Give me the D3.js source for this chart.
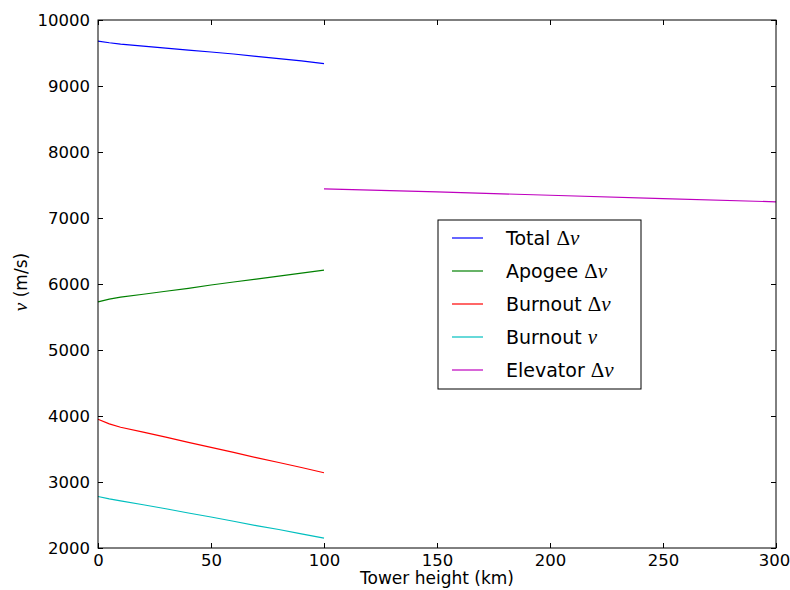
<!DOCTYPE html>
<html>
<head>
<meta charset="utf-8">
<script src="https://cdn.jsdelivr.net/npm/d3@7"></script>
<style>
  body { margin: 0; background: #fff; }
  text { font-family: "DejaVu Sans", sans-serif; }
</style>
</head>
<body>
<script>
// tower heights (km) for the rocket curves and for the elevator curve
var towerKm = [0, 5, 10, 20, 30, 40, 50, 60, 70, 80, 90, 100];
var elevatorKm = [100, 150, 200, 250, 300];

// speeds (m/s)
var totalDv    = [9680, 9655, 9635, 9605, 9575, 9545, 9515, 9485, 9450, 9415, 9380, 9340];
var apogeeDv   = [5730, 5770, 5800, 5845, 5890, 5935, 5985, 6030, 6075, 6120, 6165, 6210];
var burnoutDv  = [3950, 3880, 3830, 3755, 3680, 3600, 3525, 3450, 3370, 3295, 3220, 3140];
var burnoutV   = [2780, 2745, 2715, 2655, 2595, 2530, 2470, 2405, 2340, 2280, 2215, 2150];
var elevatorDv = [7440, 7395, 7345, 7295, 7245];

var xTicks = [0, 50, 100, 150, 200, 250, 300];
var yTicks = [2000, 3000, 4000, 5000, 6000, 7000, 8000, 9000, 10000];

var series = [
  {name: "Total ", sym: "\u0394", it: "v", color: "#0000ff", xs: towerKm, ys: totalDv},
  {name: "Apogee ", sym: "\u0394", it: "v", color: "#008000", xs: towerKm, ys: apogeeDv},
  {name: "Burnout ", sym: "\u0394", it: "v", color: "#ff0000", xs: towerKm, ys: burnoutDv},
  {name: "Burnout ", sym: "", it: "v", color: "#00bfbf", xs: towerKm, ys: burnoutV},
  {name: "Elevator ", sym: "\u0394", it: "v", color: "#bf00bf", xs: elevatorKm, ys: elevatorDv}
];

(function() {
  var w = 790, h = 590;
  var pLeft = 98, pRight = 776, pTop = 20, pBottom = 548;
  var mathFont = "Liberation Serif, DejaVu Serif, serif";

  var svg = d3.select("body").append("svg")
    .attr("width", w)
    .attr("height", h);

  var x = d3.scaleLinear().domain([0, 300]).range([pLeft, pRight]);
  var y = d3.scaleLinear().domain([2000, 10000]).range([pBottom, pTop]);

  // lines
  var line = d3.line()
    .x(function(d) { return x(d[0]); })
    .y(function(d) { return y(d[1]); });

  series.forEach(function(s) {
    svg.append("path")
      .datum(s.xs.map(function(v, i) { return [v, s.ys[i]]; }))
      .attr("d", line)
      .attr("fill", "none")
      .attr("stroke", s.color)
      .attr("stroke-width", 1.2);
  });

  // axes: ticks point inward, on all four sides
  function styleAxis(g) {
    g.select(".domain").remove();
    g.selectAll(".tick line").attr("stroke", "#000");
    g.selectAll(".tick text").attr("font-size", "16.5px").attr("fill", "#000")
      .attr("font-family", "DejaVu Sans, sans-serif");
  }

  var xb = svg.append("g")
    .attr("transform", "translate(0," + pBottom + ")")
    .call(d3.axisBottom(x).tickValues(xTicks).tickSizeInner(-5).tickSizeOuter(0).tickPadding(6).tickFormat(d3.format("d")))
    .call(styleAxis);
  // keep the last label inside the window
  xb.selectAll(".tick text").filter(function(d) { return d === 300; }).attr("dx", "-2");

  svg.append("g")
    .attr("transform", "translate(0," + pTop + ")")
    .call(d3.axisTop(x).tickValues(xTicks).tickSizeInner(-5).tickSizeOuter(0).tickFormat(""))
    .call(styleAxis);

  svg.append("g")
    .attr("transform", "translate(" + pLeft + ",0)")
    .call(d3.axisLeft(y).tickValues(yTicks).tickSizeInner(-5).tickSizeOuter(0).tickPadding(8).tickFormat(d3.format("d")))
    .call(styleAxis);

  svg.append("g")
    .attr("transform", "translate(" + pRight + ",0)")
    .call(d3.axisRight(y).tickValues(yTicks).tickSizeInner(-5).tickSizeOuter(0).tickFormat(""))
    .call(styleAxis);

  // frame
  svg.append("rect")
    .attr("x", pLeft).attr("y", pTop)
    .attr("width", pRight - pLeft).attr("height", pBottom - pTop)
    .attr("fill", "none")
    .attr("stroke", "#000")
    .attr("stroke-width", 1);

  // axis labels
  svg.append("text")
    .attr("x", (pLeft + pRight) / 2)
    .attr("y", 584)
    .attr("text-anchor", "middle")
    .attr("font-size", "17px")
    .text("Tower height (km)");

  var yl = svg.append("text")
    .attr("transform", "translate(27,282) rotate(-90)")
    .attr("text-anchor", "middle")
    .attr("font-size", "17px");
  yl.append("tspan").attr("font-family", mathFont).attr("font-style", "italic").attr("font-size", "19px").text("v");
  yl.append("tspan").text(" (m/s)");

  // legend
  var lg = svg.append("g").attr("transform", "translate(438,220)");
  lg.append("rect")
    .attr("width", 203).attr("height", 169)
    .attr("fill", "#fff")
    .attr("stroke", "#000")
    .attr("stroke-width", 1);

  series.forEach(function(s, i) {
    var yy = 18 + i * 33;
    lg.append("line")
      .attr("x1", 14).attr("x2", 45)
      .attr("y1", yy).attr("y2", yy)
      .attr("stroke", s.color)
      .attr("stroke-width", 1.2);
    var t = lg.append("text")
      .attr("x", 68).attr("y", yy + 7)
      .attr("font-size", "19px");
    t.append("tspan").text(s.name);
    if (s.sym) t.append("tspan").attr("font-family", mathFont).attr("font-size", "21px").text(s.sym);
    t.append("tspan").attr("font-family", mathFont).attr("font-style", "italic").attr("font-size", "21px").text(s.it);
  });
})();
</script>
</body>
</html>
